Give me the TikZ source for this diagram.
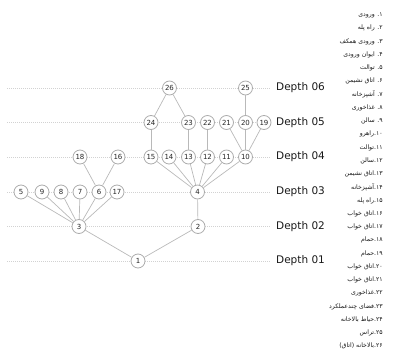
\documentclass[tikz,border=0pt]{standalone}
\usepackage{fontspec}
\setmainfont{DejaVu Sans}
\newfontfamily\arabicfont[Script=Arabic]{DejaVu Sans}
\TeXXeTstate=1
\begin{document}
\begin{tikzpicture}[x=1pt,y=-1pt,room/.style={circle,draw=gray!65,fill=white,line width=0.8pt,minimum size=14pt,inner
sep=0pt,font=\fontsize{7}{8}\selectfont,text=black!85},link/.style={draw=gray!55,line width=0.7pt},guide/.style={draw=gray!35,dash pattern=on 1pt off 1pt,line
width=0.9pt},depth/.style={anchor=west,inner sep=0pt,font=\fontsize{10.5}{12}\selectfont,text=black!90},item/.style={anchor=east,inner
sep=0pt,font=\arabicfont\fontsize{6.2}{7}\selectfont,text=black!90}]
\useasboundingbox (0,0) rectangle (400,356);
% depth levels
\foreach \d/\y in {06/88,05/122.5,04/157,03/192,02/226.5,01/261}{
  \node[depth] (d\d) at (276,\y) {Depth \d};
  \coordinate (g\d) at (7,\y);
  \draw[guide] (g\d) -- ([xshift=-5pt]d\d.west);
}
% rooms
\node[room] (r1) at (138,261) {1};
\node[room] (r2) at (198,226.5) {2};
\node[room] (r3) at (79,226.5) {3};
\node[room] (r4) at (197.5,192) {4};
\node[room] (r5) at (21,192) {5};
\node[room] (r9) at (42,192) {9};
\node[room] (r8) at (61,192) {8};
\node[room] (r7) at (80,192) {7};
\node[room] (r6) at (99,192) {6};
\node[room] (r17) at (117,192) {17};
\node[room] (r18) at (80,157) {18};
\node[room] (r16) at (118,157) {16};
\node[room] (r15) at (151,157) {15};
\node[room] (r14) at (169,157) {14};
\node[room] (r13) at (188.5,157) {13};
\node[room] (r12) at (207.5,157) {12};
\node[room] (r11) at (226.5,157) {11};
\node[room] (r10) at (245.5,157) {10};
\node[room] (r24) at (151,122.5) {24};
\node[room] (r23) at (188.5,122.5) {23};
\node[room] (r22) at (207.5,122.5) {22};
\node[room] (r21) at (226.5,122.5) {21};
\node[room] (r20) at (245.5,122.5) {20};
\node[room] (r19) at (264,122.5) {19};
\node[room] (r26) at (169.5,88) {26};
\node[room] (r25) at (245.5,88) {25};
% links
\foreach \a/\b in {1/3,1/2,2/4,3/5,3/9,3/8,3/7,3/6,3/17,6/18,6/16,4/15,4/14,4/13,4/12,4/11,4/10,15/24,13/23,12/22,10/21,10/20,10/19,24/26,23/26,20/25}
  \draw[link] (r\a) -- (r\b);
% legend
\foreach \t [count=\i] in {۱. ورودی,۲. راه پله,۳. ورودی همکف,۴. ایوان ورودی,۵. توالت,۶. اتاق نشیمن,۷. آشپزخانه,۸. غذاخوری,۹. سالن,۱۰.راهرو,۱۱.توالت,۱۲.سالن,۱۳.اتاق نشیمن,۱۴.آشپزخانه,۱۵.راه پله,۱۶.اتاق خواب,۱۷.اتاق خواب,۱۸.حمام,۱۹.حمام,۲۰.اتاق خواب,۲۱.اتاق خواب,۲۲.غذاخوری,۲۳.فضای چندعملکرد,۲۴.حیاط بالاخانه,۲۵.تراس,۲۶.بالاخانه (اتاق)}
  \node[item] (l\i) at (383,{15+13.25*(\i-1)}) {\beginR\t\endR};
\end{tikzpicture}
\end{document}
